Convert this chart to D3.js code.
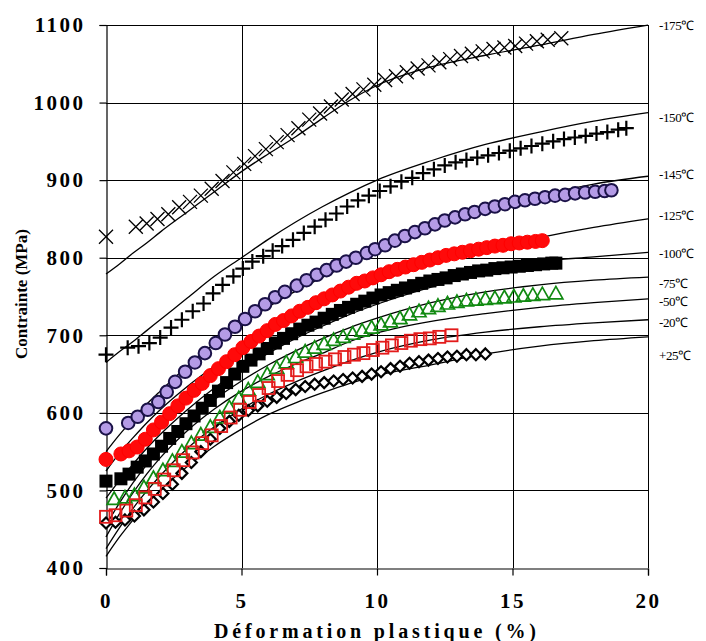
<!DOCTYPE html>
<html><head><meta charset="utf-8">
<script src="https://cdn.jsdelivr.net/npm/d3@7"></script>
<style>body{margin:0;background:#fff} svg{display:block} text{font-family:"Liberation Serif","Times New Roman",serif}</style>
</head><body><svg id="c" width="706" height="641"></svg>
<script>
// ---- data ----
const xTicks = [0, 5, 10, 15, 20];
const yTicks = [400, 500, 600, 700, 800, 900, 1000, 1100];
const xTitle = "Déformation plastique (%)";
const yTitle = "Contrainte (MPa)";

const tempLabels = ["-175℃", "-150℃", "-145℃", "-125℃", "-100℃", "-75℃", "-50℃", "-20℃", "+25℃"];
const tempLabelAt = [1100, 981, 907, 855, 806, 767, 743, 716, 674];

const fitX = [0, 0.5, 1, 1.5, 2, 3, 4, 5, 6, 7, 8, 9, 10, 12, 14, 16, 18, 20];
const fitM175 = [779, 792, 806, 819, 833, 859, 885, 911, 934, 956, 980, 1003, 1022, 1046, 1061, 1074, 1088, 1100];
const fitM150 = [665, 679, 692, 706, 720, 748, 776, 800, 824, 846, 866, 884, 900, 925, 946, 962, 976, 987];
const fitM145 = [550, 572, 592, 611, 628, 660, 689, 714, 737, 757, 775, 792, 808, 836, 860, 880, 895, 905];
const fitM125 = [525, 548, 568, 587, 604, 634, 660, 683, 703, 722, 741, 756, 769, 792, 811, 826, 839, 850];
const fitM100 = [490, 513, 534, 554, 572, 604, 632, 656, 677, 696, 712, 727, 740, 762, 780, 795, 801, 807];
const fitM75  = [455, 484, 510, 533, 553, 588, 617, 641, 662, 680, 696, 710, 722, 742, 756, 765, 771, 775];
const fitM50  = [440, 470, 497, 521, 542, 577, 605, 628, 647, 663, 677, 692, 703, 718, 728, 736, 742, 747];
const fitM20  = [425, 452, 477, 499, 519, 554, 582, 605, 624, 640, 654, 667, 678, 694, 704, 711, 716, 720];
const fitP25  = [415, 440, 462, 482, 500, 531, 557, 579, 598, 613, 626, 638, 648, 662, 676, 686, 693, 698];

// measured points [strain %, stress MPa]
const dataM175 = [[0,827],[1.1,840],[1.5,844],[1.9,850],[2.3,856],[2.7,865],[3.1,872],[3.5,880],[3.9,889],[4.3,899],[4.7,910],[5.1,921],[5.5,931],[5.9,940],[6.3,949],[6.7,958],[7.1,967],[7.5,978],[7.9,986],[8.3,995],[8.7,1004],[9.1,1011],[9.5,1017],[9.9,1023],[10.3,1029],[10.7,1034],[11.1,1039],[11.5,1044],[11.9,1048],[12.3,1052],[12.7,1056],[13.1,1060],[13.5,1063],[13.9,1066],[14.3,1069],[14.7,1071],[15.1,1073],[15.5,1076],[15.9,1079],[16.3,1081],[16.8,1083]];
const dataM150 = [[0,675],[0.8,684],[1.2,686],[1.6,690],[2.0,697],[2.4,710],[2.8,720],[3.2,731],[3.6,741],[3.95,754],[4.3,765],[4.7,776],[5.05,786],[5.4,795],[5.8,802],[6.15,809],[6.5,815],[6.9,823],[7.3,832],[7.7,840],[8.1,849],[8.5,857],[8.9,866],[9.3,874],[9.7,880],[10.1,886],[10.5,892],[10.9,898],[11.3,903],[11.7,909],[12.1,914],[12.5,919],[12.9,923],[13.3,926],[13.7,929],[14.1,932],[14.5,935],[14.9,938],[15.3,941],[15.7,944],[16.1,947],[16.5,950],[16.9,953],[17.3,955],[17.7,957],[18.1,960],[18.5,962],[18.9,965],[19.2,967]];
const dataM145 = [[0,580],[0.82,587],[1.17,595],[1.54,604],[1.93,614],[2.24,627],[2.55,640],[2.92,653],[3.28,665],[3.65,677],[4.05,690],[4.39,701],[4.76,711],[5.13,721],[5.5,731],[5.87,740],[6.24,749],[6.6,756],[7.04,764],[7.4,771],[7.78,778],[8.14,784],[8.51,790],[8.86,795],[9.22,800],[9.62,806],[9.93,811],[10.3,816],[10.66,822],[11.03,828],[11.4,833],[11.77,838],[12.14,843],[12.5,848],[12.88,852],[13.25,856],[13.6,859],[13.99,863],[14.35,866],[14.72,869],[15.09,872],[15.46,874],[15.83,876],[16.2,878],[16.57,880],[16.94,881],[17.31,883],[17.68,884],[18.05,885],[18.4,886],[18.65,887]];
const dataM125 = [[0,540],[0.55,547],[0.85,551],[1.15,556],[1.45,566],[1.75,578],[2.05,588],[2.35,599],[2.65,609],[2.95,619],[3.25,629],[3.55,638],[3.85,648],[4.15,657],[4.45,666],[4.75,675],[5.05,684],[5.35,692],[5.65,699],[5.95,706],[6.25,714],[6.55,719],[6.85,725],[7.15,731],[7.45,736],[7.75,742],[8.05,747],[8.35,752],[8.65,757],[8.95,762],[9.25,767],[9.55,770],[9.85,774],[10.15,778],[10.45,782],[10.75,785],[11.05,788],[11.35,791],[11.65,794],[11.95,797],[12.25,800],[12.55,803],[12.85,805],[13.15,807],[13.45,809],[13.75,811],[14.05,813],[14.35,815],[14.65,816],[14.95,818],[15.25,819],[15.55,820],[15.85,821],[16.1,822]];
const dataM100 = [[0,512],[0.55,515],[0.85,521],[1.15,530],[1.45,538],[1.75,547],[2.05,557],[2.35,567],[2.65,576],[2.95,586],[3.25,596],[3.55,606],[3.85,616],[4.15,628],[4.45,639],[4.75,650],[5.05,660],[5.35,668],[5.65,676],[5.95,683],[6.25,690],[6.55,696],[6.85,702],[7.15,708],[7.45,713],[7.75,717],[8.05,722],[8.35,727],[8.65,732],[8.95,736],[9.25,740],[9.55,744],[9.85,748],[10.15,752],[10.45,755],[10.75,758],[11.05,761],[11.35,764],[11.65,767],[11.95,770],[12.25,772],[12.55,774],[12.85,777],[13.15,779],[13.45,781],[13.75,783],[14.05,784],[14.35,786],[14.65,787],[14.95,788],[15.25,789],[15.55,790],[15.85,791],[16.15,792],[16.45,793],[16.6,793]];
const dataM50 = [[0.3,489],[0.7,491],[1.05,494],[1.4,504],[1.75,516],[2.1,526],[2.45,538],[2.8,550],[3.15,561],[3.5,572],[3.85,582],[4.2,594],[4.55,607],[4.9,619],[5.25,630],[5.6,640],[5.95,650],[6.3,658],[6.65,665],[7.0,672],[7.35,679],[7.7,684],[8.05,689],[8.4,694],[8.75,698],[9.1,702],[9.45,706],[9.8,710],[10.15,714],[10.5,718],[10.85,722],[11.2,727],[11.55,731],[11.9,735],[12.25,738],[12.6,741],[12.95,743],[13.3,745],[13.65,746],[14.0,747],[14.35,748],[14.7,749],[15.05,750],[15.4,751],[15.75,752],[16.1,753],[16.6,754]];
const dataM20 = [[0,466],[0.35,468],[0.75,474],[1.1,481],[1.45,491],[1.8,502],[2.15,514],[2.5,526],[2.85,539],[3.2,549],[3.55,561],[3.9,571],[4.25,583],[4.6,594],[4.95,604],[5.3,614],[5.65,623],[6.0,632],[6.35,641],[6.7,649],[7.05,655],[7.4,660],[7.75,663],[8.1,666],[8.45,669],[8.8,672],[9.15,675],[9.5,677],[9.85,681],[10.2,684],[10.55,687],[10.9,690],[11.25,693],[11.6,695],[11.95,696],[12.3,698],[12.75,700]];
const dataP25 = [[0,458],[0.35,459],[0.7,462],[1.05,467],[1.4,475],[1.75,485],[2.1,496],[2.45,508],[2.8,522],[3.15,536],[3.5,550],[3.85,566],[4.2,580],[4.55,589],[4.9,597],[5.25,603],[5.6,609],[5.95,615],[6.3,620],[6.65,625],[7.0,630],[7.35,634],[7.7,637],[8.05,639],[8.4,641],[8.75,643],[9.1,645],[9.45,647],[9.8,650],[10.15,653],[10.5,657],[10.85,660],[11.2,664],[11.55,666],[11.9,668],[12.25,670],[12.6,672],[12.95,673],[13.3,675],[13.65,675],[14.0,676]];

// ---- drawing ----
const svg = d3.select("#c");
const x = d3.scaleLinear().domain([0, 20]).range([106, 648]);
const y = d3.scaleLinear().domain([400, 1100]).range([568, 25]);
const serif = '"Liberation Serif", "Times New Roman", serif';

// grid
const grid = svg.append("g").attr("stroke", "#000").attr("stroke-width", 1).attr("shape-rendering", "crispEdges");
grid.selectAll("line.h").data(yTicks.slice(1)).join("line")
  .attr("x1", x(0)).attr("x2", x(20)).attr("y1", d => Math.round(y(d)) + 0.5).attr("y2", d => Math.round(y(d)) + 0.5);
grid.selectAll("line.v").data(xTicks.slice(1)).join("line")
  .attr("y1", y(400)).attr("y2", y(1100)).attr("x1", d => Math.round(x(d)) + 0.5).attr("x2", d => Math.round(x(d)) + 0.5);

// fitted curves (under the markers)
const fits = [fitM175, fitM150, fitM145, fitM125, fitM100, fitM75, fitM50, fitM20, fitP25];
const line = d3.line().x(d => x(d[0])).y(d => y(d[1])).curve(d3.curveMonotoneX);
svg.append("g").selectAll("path").data(fits).join("path")
  .attr("d", f => line(fitX.map((v, i) => [v, f[i]])))
  .attr("fill", "none").attr("stroke", "#000").attr("stroke-width", 1.3);

// axes
const yAxis = svg.append("g").attr("transform", `translate(${Math.round(x(0)) + 0.5},0)`)
  .call(d3.axisLeft(y).tickValues(yTicks).tickSize(7).tickPadding(14).tickFormat(d3.format("d")));
const xAxis = svg.append("g").attr("transform", `translate(0,${Math.round(y(400)) + 0.5})`)
  .call(d3.axisBottom(x).tickValues(xTicks).tickSize(7).tickPadding(18).tickFormat(d3.format("d")));
[yAxis, xAxis].forEach(a => {
  a.attr("font-family", null);
  a.select(".domain").attr("stroke", "#000").attr("stroke-width", 1.2);
  a.selectAll(".tick line").attr("stroke", "#000").attr("stroke-width", 1.2);
  a.selectAll(".tick text").style("font-family", serif).attr("font-weight", "bold")
    .attr("font-size", 21).attr("fill", "#000").attr("letter-spacing", 2.5);
});

// markers
const plot = svg.append("g");
function crossPath(d, s) { const cx = x(d[0]), cy = y(d[1]); return `M${cx - s},${cy - s}L${cx + s},${cy + s}M${cx - s},${cy + s}L${cx + s},${cy - s}`; }
function plusPath(d, s) { const cx = x(d[0]), cy = y(d[1]); return `M${cx - s},${cy}L${cx + s},${cy}M${cx},${cy - s}L${cx},${cy + s}`; }

plot.append("g").selectAll("path").data(dataP25).join("path")
  .attr("d", d => { const cx = x(d[0]), cy = y(d[1]); return `M${cx},${cy - 5.5}L${cx + 5.5},${cy}L${cx},${cy + 5.5}L${cx - 5.5},${cy}Z`; })
  .attr("fill", "#fff").attr("stroke", "#000").attr("stroke-width", 2.2);
plot.append("g").selectAll("path").data(dataM50).join("path")
  .attr("d", d => { const cx = x(d[0]), cy = y(d[1]); return `M${cx},${cy - 7}L${cx + 7},${cy + 5.5}L${cx - 7},${cy + 5.5}Z`; })
  .attr("fill", "none").attr("stroke", "#118a11").attr("stroke-width", 1.7);
plot.append("g").selectAll("rect").data(dataM20).join("rect")
  .attr("x", d => x(d[0]) - 6).attr("y", d => y(d[1]) - 6).attr("width", 12).attr("height", 12)
  .attr("fill", "none").attr("stroke", "#e31b1b").attr("stroke-width", 1.8);
plot.append("g").selectAll("rect").data(dataM100).join("rect")
  .attr("x", d => x(d[0]) - 6.5).attr("y", d => y(d[1]) - 6.5).attr("width", 13).attr("height", 13)
  .attr("fill", "#000");
plot.append("g").selectAll("circle").data(dataM125).join("circle")
  .attr("cx", d => x(d[0])).attr("cy", d => y(d[1])).attr("r", 7)
  .attr("fill", "#ff0a0a").attr("stroke", "#f00").attr("stroke-width", 1);
plot.append("g").selectAll("circle").data(dataM145).join("circle")
  .attr("cx", d => x(d[0])).attr("cy", d => y(d[1])).attr("r", 6.3)
  .attr("fill", "#b49be6").attr("stroke", "#1b1248").attr("stroke-width", 2);
plot.append("g").selectAll("path").data(dataM150).join("path")
  .attr("d", d => plusPath(d, 7.5)).attr("stroke", "#000").attr("stroke-width", 2.2).attr("fill", "none");
plot.append("g").selectAll("path").data(dataM175).join("path")
  .attr("d", d => crossPath(d, 7)).attr("stroke", "#000").attr("stroke-width", 1.3).attr("fill", "none");

// temperature labels
svg.append("g").selectAll("text").data(tempLabels).join("text")
  .attr("x", 659).attr("y", (d, i) => y(tempLabelAt[i])).attr("dy", "0.35em")
  .style("font-family", serif).attr("font-size", 13).attr("fill", "#000").attr("letter-spacing", -0.4)
  .text(d => d);

// axis titles
svg.append("text").attr("x", 375).attr("y", 638).attr("text-anchor", "middle")
  .style("font-family", serif).attr("font-weight", "bold").attr("font-size", 20)
  .attr("textLength", 322).attr("lengthAdjust", "spacing").text(xTitle);
svg.append("text").attr("transform", "translate(27,294) rotate(-90)").attr("text-anchor", "middle")
  .style("font-family", serif).attr("font-weight", "bold").attr("font-size", 17).text(yTitle);
</script></body></html>
